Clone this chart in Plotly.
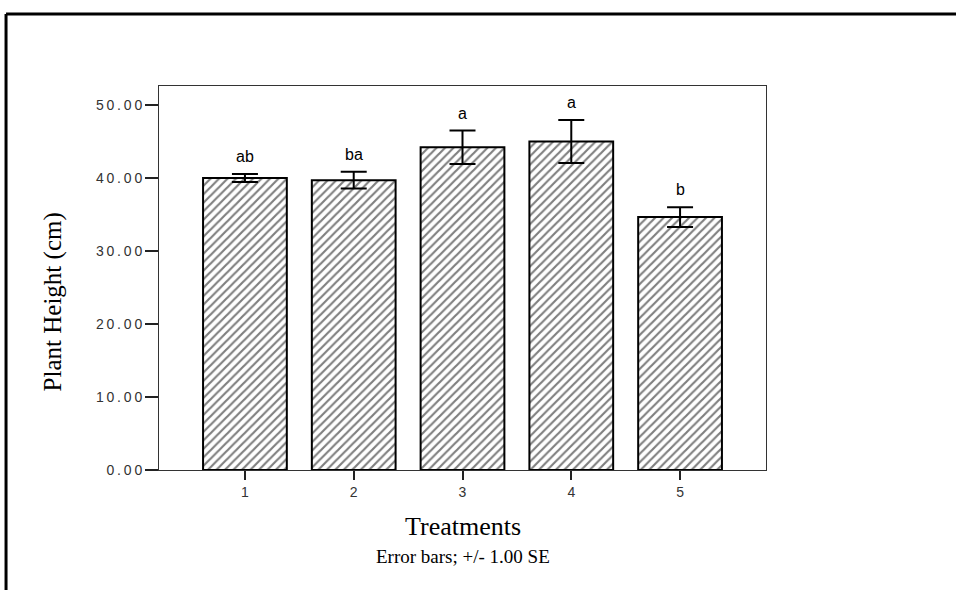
import plotly.graph_objects as go

treatments = ["1", "2", "3", "4", "5"]
heights = [40.0, 39.7, 44.2, 45.0, 34.65]
se = [0.55, 1.15, 2.3, 2.95, 1.35]
letters = ["ab", "ba", "a", "a", "b"]
ytick_vals = [0, 10, 20, 30, 40, 50]
ytick_labels = ["0.00", "10.00", "20.00", "30.00", "40.00", "50.00"]

xpos = [int(t) for t in treatments]
SP = "\u2009"
spaced = [SP.join(list(s)) for s in ytick_labels]

fig = go.Figure()
fig.add_trace(go.Bar(
    x=xpos, y=heights, width=0.77,
    marker=dict(color="white", line=dict(color="black", width=2),
                pattern=dict(shape="/", size=6, solidity=0.36, fgcolor="black", bgcolor="white")),
    error_y=dict(type="data", array=se, visible=True, color="black", thickness=2, width=13),
    showlegend=False, hoverinfo="skip",
))

for x, h, e, lab in zip(xpos, heights, se, letters):
    fig.add_annotation(x=x, y=h + e, text=lab, showarrow=False, yanchor="bottom", yshift=7,
                       font=dict(family="Liberation Sans", size=16, color="black"))

fig.add_annotation(xref="paper", yref="paper", x=0.5, y=-0.146, text="Treatments", showarrow=False,
                   xanchor="center", yanchor="middle",
                   font=dict(family="Liberation Serif", size=26, color="black"))
fig.add_annotation(xref="paper", yref="paper", x=0.5, y=-0.226, text="Error bars; +/- 1.00 SE", showarrow=False,
                   xanchor="center", yanchor="middle",
                   font=dict(family="Liberation Serif", size=19, color="black"))
fig.add_annotation(xref="paper", yref="paper", x=-0.174, y=0.4375, text="Plant Height (cm)", showarrow=False,
                   xanchor="center", yanchor="middle", textangle=-90,
                   font=dict(family="Liberation Serif", size=25, color="black"))

# outer frame (top and left edges)
fig.add_shape(type="line", xref="paper", yref="paper", x0=-0.252, x1=1.4, y0=1.1875, y1=1.1875,
              line=dict(color="black", width=3))
fig.add_shape(type="line", xref="paper", yref="paper", x0=-0.252, x1=-0.252, y0=1.1875, y1=-0.35,
              line=dict(color="black", width=3))

fig.update_xaxes(range=[0.21, 5.79], tickmode="array", tickvals=xpos, ticktext=treatments,
                 ticks="outside", ticklen=9, tickwidth=2, tickcolor="#222",
                 showline=True, linecolor="#333", linewidth=1, mirror=True, showgrid=False, zeroline=False,
                 tickfont=dict(family="Liberation Sans", size=14, color="#333"))
fig.update_yaxes(range=[0, 52.6], tickmode="array", tickvals=ytick_vals, ticktext=spaced,
                 ticks="outside", ticklen=13, tickwidth=2, tickcolor="#222",
                 showline=True, linecolor="#333", linewidth=1, mirror=True, showgrid=False, zeroline=False,
                 tickfont=dict(family="Liberation Sans", size=14, color="#333"))

fig.update_layout(width=956, height=590, margin=dict(l=159, r=190, t=86, b=120),
                  paper_bgcolor="white", plot_bgcolor="white", bargap=0.2)

fig.write_html("out.html", config={"displayModeBar": False},
               post_script="document.body.style.margin='0';document.body.style.overflow='hidden';")
